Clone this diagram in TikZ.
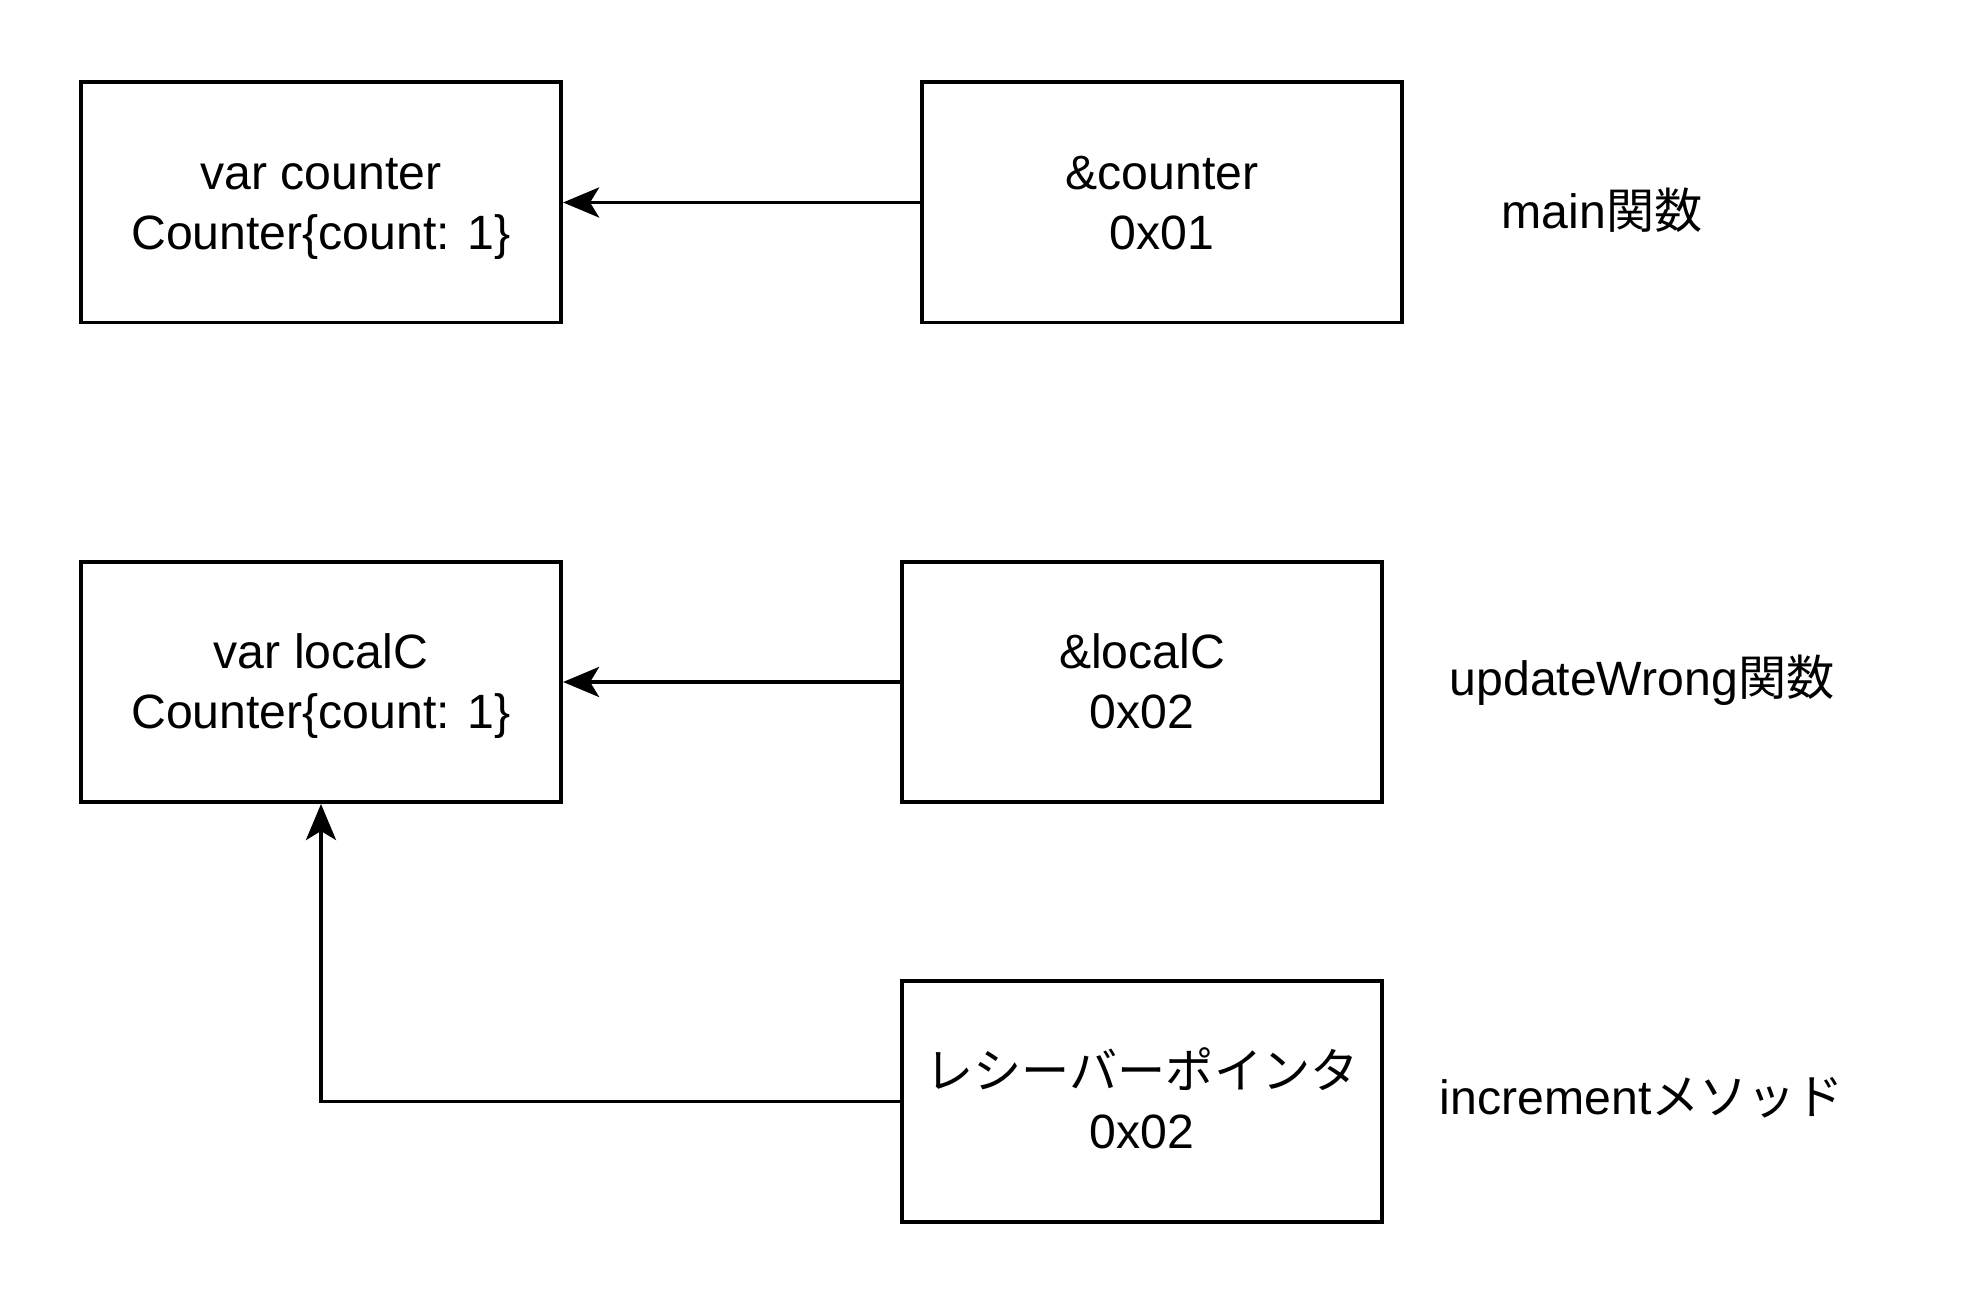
\documentclass[tikz,border=0pt]{standalone}
\usepackage{fontspec}
\setmainfont{Liberation Sans}
\newfontfamily\jp{Noto Sans CJK JP}
\usetikzlibrary{arrows.meta}
\newcommand\mytopstrut{\rule{0pt}{14.7pt}}
\begin{document}
\begin{tikzpicture}[x=0.01cm,y=-0.01cm,
  box/.style={draw,line width=1.1pt,minimum width=4.8cm,minimum height=2.4cm,align=center,inner sep=0pt,
    font=\fontsize{13.7pt}{17pt}\selectfont},
  lbl/.style={align=center,inner sep=0pt,font=\fontsize{13.7pt}{17pt}\selectfont},
  conn/.style={line width=1.1pt,-{Stealth[length=0.36cm,width=0.30cm,inset=0.09cm]}}]
\useasboundingbox[fill=white] (0,0) rectangle (1964,1304);
\node[box] (b1) at (321,202.5) {\mytopstrut var counter\\\strut Counter\{count: 1\}};
\node[box] (b2) at (1162,202.5) {\mytopstrut\&counter\\\strut 0x01};
\node[box] (b3) at (321,682) {\mytopstrut var localC\\\strut Counter\{count: 1\}};
\node[box] (b4) at (1142,682) {\mytopstrut\&localC\\\strut 0x02};
\node[box] (b5) at (1142,1101.5) {\mytopstrut{\jp レシーバーポインタ}\\\strut 0x02};
\node[lbl] (l1) at (1602,210) {main{\jp 関数}};
\node[lbl] (l2) at (1642,680) {updateWrong{\jp 関数}};
\node[lbl] (l3) at (1642,1098) {increment{\jp メソッド}};
\draw[conn] (b2.west) -- (b1.east);
\draw[conn] (b4.west) -- (b3.east);
\draw[conn] (b5.west) -| (b3.south);
\end{tikzpicture}
\end{document}
